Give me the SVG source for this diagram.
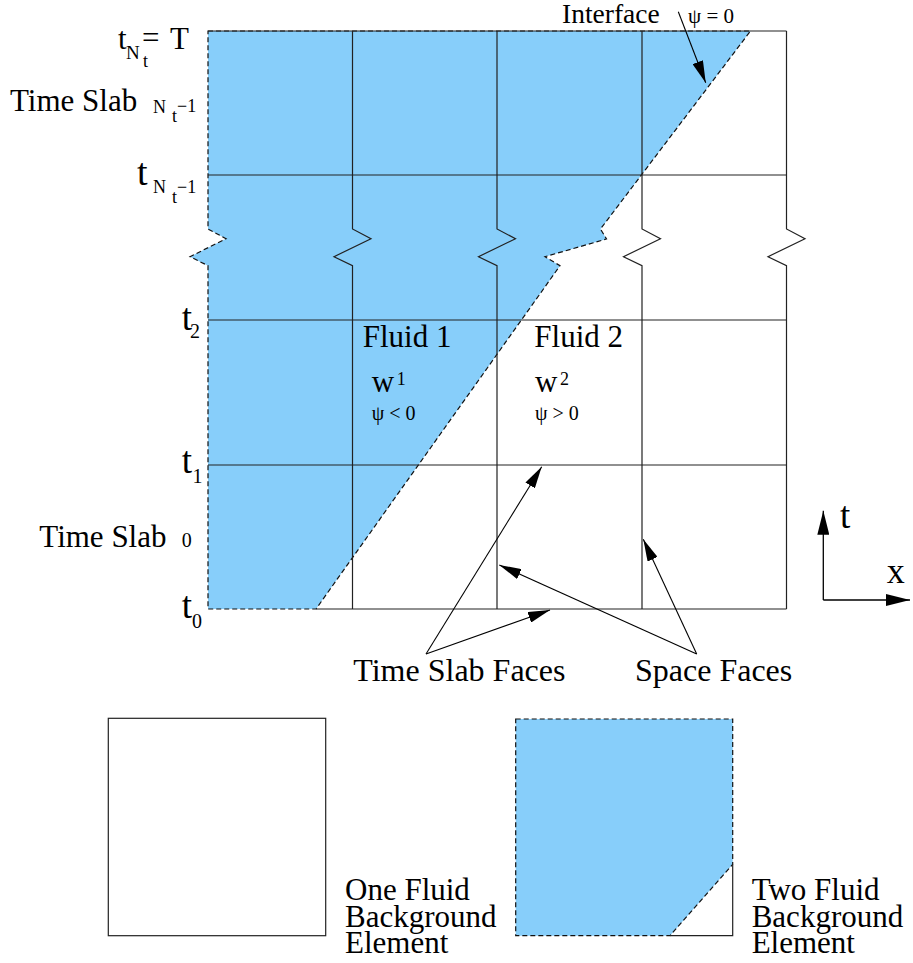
<svg xmlns="http://www.w3.org/2000/svg" width="913" height="963" viewBox="0 0 913 963">
<style>
text{font-family:"Liberation Serif","Times New Roman",serif;fill:#000}
.grid{fill:none;stroke:#222;stroke-width:1.2}
.blue{fill:#87CEFA;stroke:#111;stroke-width:1.2;stroke-dasharray:5 3}
.arr{fill:none;stroke:#000;stroke-width:1.1;marker-end:url(#ah)}
.ax{fill:none;stroke:#000;stroke-width:1.3;marker-end:url(#ah2)}
</style>
<defs>
<marker id="ah" markerUnits="userSpaceOnUse" markerWidth="22" markerHeight="11" refX="22" refY="5.5" orient="auto"><path d="M0,0 L22,5.5 L0,11 Z" fill="#000"/></marker>
<marker id="ah2" markerUnits="userSpaceOnUse" markerWidth="24" markerHeight="12" refX="24" refY="6" orient="auto"><path d="M0,0 L24,6 L0,12 Z" fill="#000"/></marker>
</defs>
<rect width="913" height="963" fill="#fff"/>

<g id="fluid1-region">
<path class="blue" d="M208,31 L750.5,31 L600.5,229 L606.5,239 L545,256.7 L560,265.7 L316,609 L208,609 L208,265.7 L190,256.7 L226,238.7 L208,229 Z"/>
</g>

<g id="grid">
<path class="grid" d="M208,31 H786.5"/>
<path class="grid" d="M208,175 H786.5 M208,320 H786.5 M208,465 H786.5"/>
<path class="grid" d="M316,609 H786.5"/>
<path class="grid" d="M352.5,31 V229 L371,238.7 L334,256.7 L352.5,265.7 V609"/>
<path class="grid" d="M497,31 V229 L515.5,238.7 L478.5,256.7 L497,265.7 V609"/>
<path class="grid" d="M642,31 V229 L660.5,238.7 L623.5,256.7 L642,265.7 V609"/>
<path class="grid" d="M786.5,31 V229 L805,238.7 L768,256.7 L786.5,265.7 V609"/>
</g>

<g id="connectors">
<path class="arr" d="M678.3,11.7 L705.7,82.7"/>
<path class="arr" d="M426,654 L541.7,466.7"/>
<path class="arr" d="M426,654 L550,610"/>
<path class="arr" d="M696.7,654 L499.3,565"/>
<path class="arr" d="M696.7,654 L643.3,539.3"/>
<path class="ax" d="M823.3,600 V510.7"/>
<path class="ax" d="M823.3,600 H910"/>
</g>

<g id="time-labels">
<text x="118" y="49" font-size="31">t</text>
<text x="126" y="59" font-size="19">N</text>
<text x="143" y="66.5" font-size="18">t</text>
<text x="142" y="48" font-size="31">=</text>
<text x="170" y="49" font-size="31">T</text>

<text x="10" y="110.7" font-size="31">Time Slab</text>
<text x="153" y="113.3" font-size="18">N</text>
<text x="172" y="121.7" font-size="18">t</text>
<text x="177" y="111.7" font-size="18">−1</text>

<text x="137" y="185" font-size="38">t</text>
<text x="153" y="193" font-size="18">N</text>
<text x="172" y="203.3" font-size="18">t</text>
<text x="177" y="193" font-size="18">−1</text>

<text x="181.7" y="330" font-size="37">t</text>
<text x="190" y="337.7" font-size="20">2</text>

<text x="181.7" y="473.3" font-size="37">t</text>
<text x="192.5" y="482.7" font-size="20">1</text>

<text x="39.3" y="546.7" font-size="31">Time Slab</text>
<text x="181.7" y="546.7" font-size="20">0</text>

<text x="181.7" y="618.3" font-size="37">t</text>
<text x="192" y="628.3" font-size="20">0</text>
</g>

<g id="interface-label">
<text x="562" y="22.5" font-size="27.5">Interface</text>
<text x="688" y="23.3" font-size="21">ψ = 0</text>
</g>

<g id="fluid1-label">
<text x="362.7" y="346.7" font-size="31">Fluid 1</text>
<text x="371.7" y="391.7" font-size="31">w</text>
<text x="396.7" y="385" font-size="18">1</text>
<text x="371.7" y="420" font-size="20">ψ &lt; 0</text>
</g>

<g id="fluid2-label">
<text x="534.3" y="346.7" font-size="31">Fluid 2</text>
<text x="535" y="391.7" font-size="31">w</text>
<text x="560" y="385" font-size="18">2</text>
<text x="535" y="420" font-size="20">ψ &gt; 0</text>
</g>

<g id="face-labels">
<text x="353.3" y="681" font-size="32">Time Slab Faces</text>
<text x="635" y="681" font-size="32">Space Faces</text>
</g>

<g id="axes-labels">
<text x="840" y="528.3" font-size="37">t</text>
<text x="886.7" y="582.7" font-size="36">x</text>
</g>

<g id="one-fluid-element">
<rect x="108.3" y="718.3" width="217.4" height="217.4" fill="#fff" stroke="#222" stroke-width="1.2"/>
<text x="345" y="900" font-size="31">One Fluid</text>
<text x="345" y="926.7" font-size="31">Background</text>
<text x="345" y="952.7" font-size="31">Element</text>
</g>

<g id="two-fluid-element">
<path class="blue" d="M515.7,719 L732.7,719 L732.7,864.3 L670,935.7 L515.7,935.7 Z"/>
<path class="grid" d="M732.7,864.3 V935.7 H670"/>
<text x="751.7" y="900" font-size="31">Two Fluid</text>
<text x="751.7" y="926.7" font-size="31">Background</text>
<text x="751.7" y="952.7" font-size="31">Element</text>
</g>
</svg>
